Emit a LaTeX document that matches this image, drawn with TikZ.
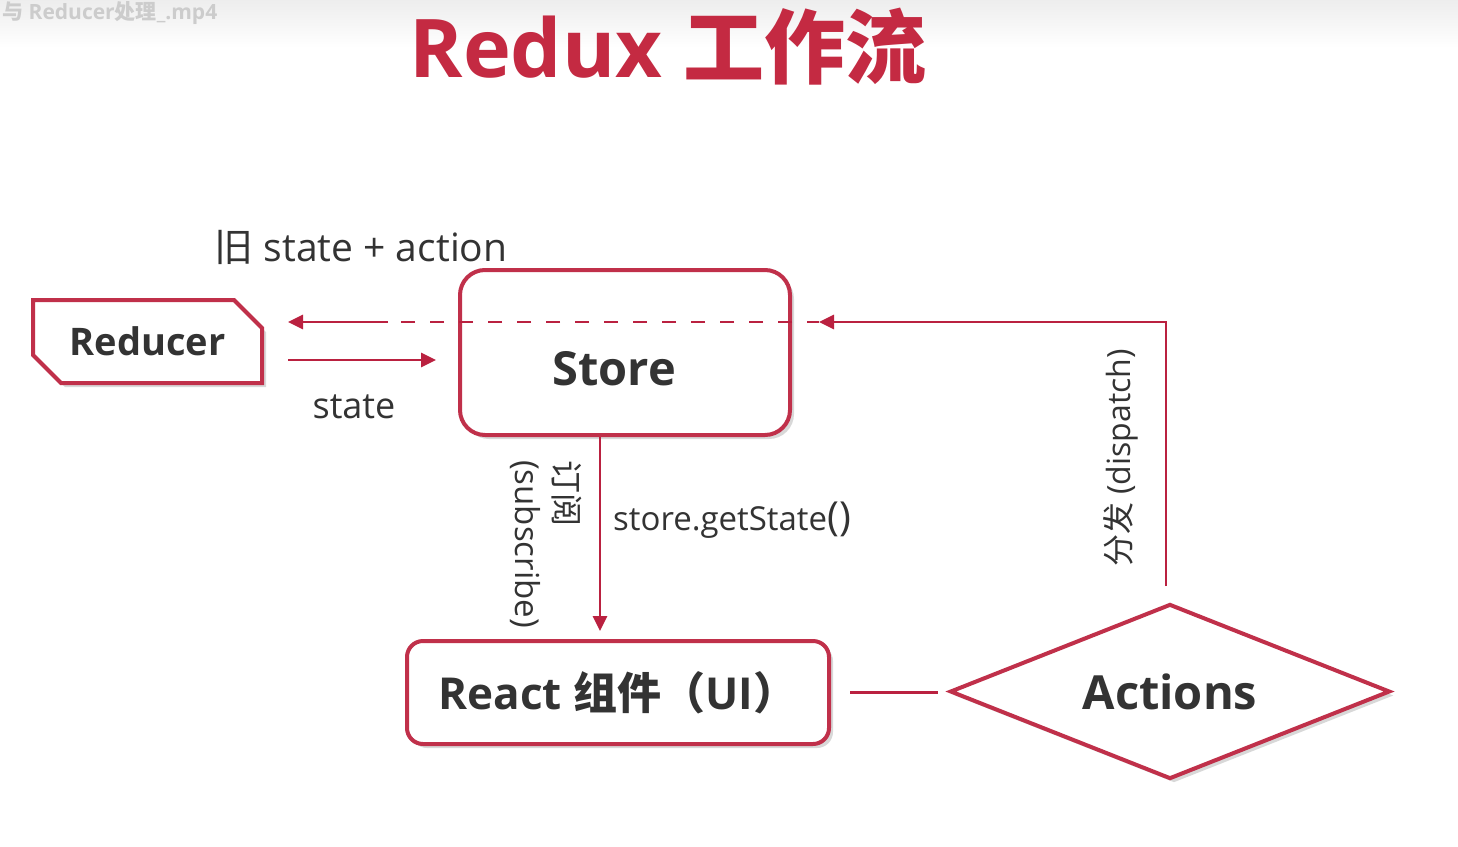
\documentclass[tikz,border=0pt]{standalone}
\usepackage{fontspec}
\setmainfont{Open Sans}
\newfontfamily\cjk{Noto Sans CJK SC}
\usetikzlibrary{shapes.geometric,shapes.misc,shadows,arrows.meta}
\definecolor{redux}{HTML}{C42A42}
\definecolor{edge}{HTML}{C0304A}
\definecolor{lin}{HTML}{BA2140}
\definecolor{txt}{HTML}{333333}
\tikzset{
  shad/.style={drop shadow={shadow xshift=4pt,shadow yshift=-4pt,opacity=0.3,fill=gray}},
  box/.style={draw=edge,line width=4pt,fill=white,shad,text=txt,font=\bfseries},
  conn/.style={draw=lin,line width=2.7pt},
  arr/.style={conn,-{Triangle[length=15pt,width=14pt]}},
  lbl/.style={text=txt,inner sep=0pt}
}
\begin{document}
\begin{tikzpicture}[x=1pt,y=-1pt]
\useasboundingbox[fill=white] (0,0) rectangle (1458,846);
\shade[top color=gray!14,bottom color=white] (0,0) rectangle (1458,48);
\node[anchor=north west,text=gray!40,font=\bfseries\fontsize{21}{24}\selectfont,inner sep=0] (wm) at (2,1) {{\cjk 与} Reducer{\cjk 处理}\_.mp4};
\node[text=redux,font=\bfseries\fontsize{81}{88}\selectfont] (title) at (668,47) {Redux {\cjk 工作流}};

\node[box,chamfered rectangle,chamfered rectangle corners={north east,south west},chamfered rectangle xsep=14pt,chamfered rectangle ysep=14pt,minimum width=229pt,minimum height=83pt,inner sep=0,font=\bfseries\fontsize{38}{40}\selectfont] (reducer) at (147.5,341.5) {Reducer};
\node[box,rounded corners=25pt,minimum width=330pt,minimum height=165pt,inner sep=0] (store) at (625,352.5) {};
\node[lbl,font=\bfseries\fontsize{47}{50}\selectfont] (storelbl) at (614,369) {Store};
\node[box,rounded corners=16pt,minimum width=422pt,minimum height=103pt,inner sep=0,font=\bfseries\fontsize{44}{48}\selectfont] (react) at (618,692.5) {React {\cjk 组件}{\cjk （}UI{\cjk ）}};
\node[box,diamond,aspect=2.5,minimum width=440pt,minimum height=175pt,inner sep=0,font=\bfseries\fontsize{47}{50}\selectfont] (actions) at (1170,691.5) {Actions};

\coordinate (lvl) at (0,322);
\coordinate (lvl2) at (0,360);
\coordinate (mid) at (388,322);
\coordinate (sx) at (600,0);
\coordinate (aup) at ([xshift=-4pt]actions.north);

\draw[arr,shorten <=16pt,shorten >=27pt] (aup) -- (aup |- lvl) -- (store.east |- lvl);
\draw[conn,dash pattern=on 14pt off 15pt,dash phase=2pt] ([xshift=27pt]store.east |- lvl) -- (mid);
\draw[arr,shorten >=24pt] (mid) -- (reducer.east |- lvl);
\draw[arr,shorten <=24pt,shorten >=22pt] (reducer.east |- lvl2) -- (store.west |- lvl2);
\draw[arr,shorten >=8pt] (store.south -| sx) -- (react.north -| sx);
\draw[conn,shorten <=19pt,shorten >=10pt] (react.east) -- (react.east -| actions.west);

\node[lbl,font=\fontsize{39}{42}\selectfont] (oldst) at (361,247) {{\cjk 旧} state + action};
\node[lbl,font=\fontsize{36}{40}\selectfont] (st) at (354,407) {state};
\node[lbl,anchor=west,font=\fontsize{33}{38}\selectfont] (gs) at (613,520) {store.getState{\fontsize{40}{40}\selectfont()}};
\node[lbl,rotate=-90,anchor=north west,align=left,font=\fontsize{33}{39}\selectfont] (sub) at (582,460) {{\cjk 订阅}\\(subscribe)};
\node[lbl,rotate=90,font=\fontsize{32}{38}\selectfont] (disp) at (1121,458) {{\cjk 分发} (dispatch)};
\end{tikzpicture}
\end{document}
